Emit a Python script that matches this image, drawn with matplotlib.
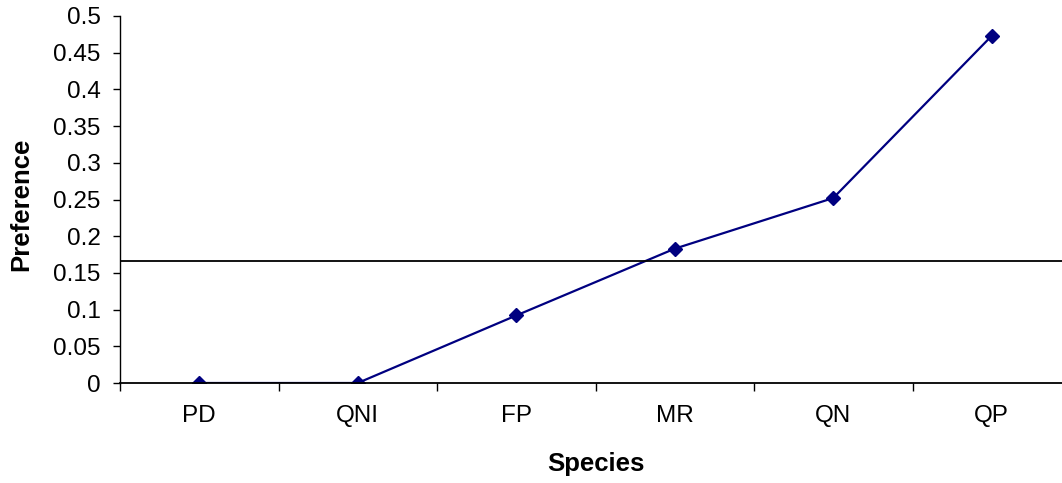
import matplotlib.pyplot as plt
import numpy as np

species = ["PD", "QNI", "FP", "MR", "QN", "QP"]
preference = [0.0, 0.0, 0.092, 0.183, 0.252, 0.473]
threshold = 1 / 6  # equal preference across six species

plt.rcParams["font.family"] = ["Liberation Sans", "DejaVu Sans"]

fig = plt.figure(figsize=(10.62, 4.83), dpi=100)
ax = fig.add_axes([120 / 1062, 100 / 483, 951 / 1062, 367 / 483])

x = np.arange(len(species))
ax.plot(x, preference, color="#000080", lw=1.6, marker="D", markersize=7.5)
ax.axhline(threshold, color="black", lw=1.3)

ax.set_xlim(-0.5, len(species) - 0.5)
ax.set_ylim(0, 0.5)
ax.set_yticks(np.arange(0, 0.501, 0.05))
ax.set_yticklabels(["0", "0.05", "0.1", "0.15", "0.2", "0.25", "0.3",
                    "0.35", "0.4", "0.45", "0.5"])

# tick marks between categories, labels at category centres
ax.set_xticks(np.arange(-0.5, len(species), 1.0))
ax.set_xticklabels([])
ax.set_xticks(x, minor=True)
ax.set_xticklabels(species, minor=True)
ax.tick_params(axis="x", which="major", direction="out", length=6, width=1)
ax.tick_params(axis="x", which="minor", length=0, pad=16, labelsize=17.5)
ax.tick_params(axis="y", direction="out", length=5, width=1, labelsize=17.5, pad=9)

for side in ["top", "right"]:
    ax.spines[side].set_visible(False)
ax.spines["left"].set_linewidth(1)
ax.spines["bottom"].set_linewidth(1.3)

ax.set_ylabel("Preference", fontsize=18.5, fontweight="bold")
ax.yaxis.set_label_coords(-87 / 951, 179 / 367)
ax.set_xlabel("Species", fontsize=18.5, fontweight="bold")
ax.xaxis.set_label_coords(476 / 951, -69 / 367)

fig.savefig("out.png", dpi=100)
